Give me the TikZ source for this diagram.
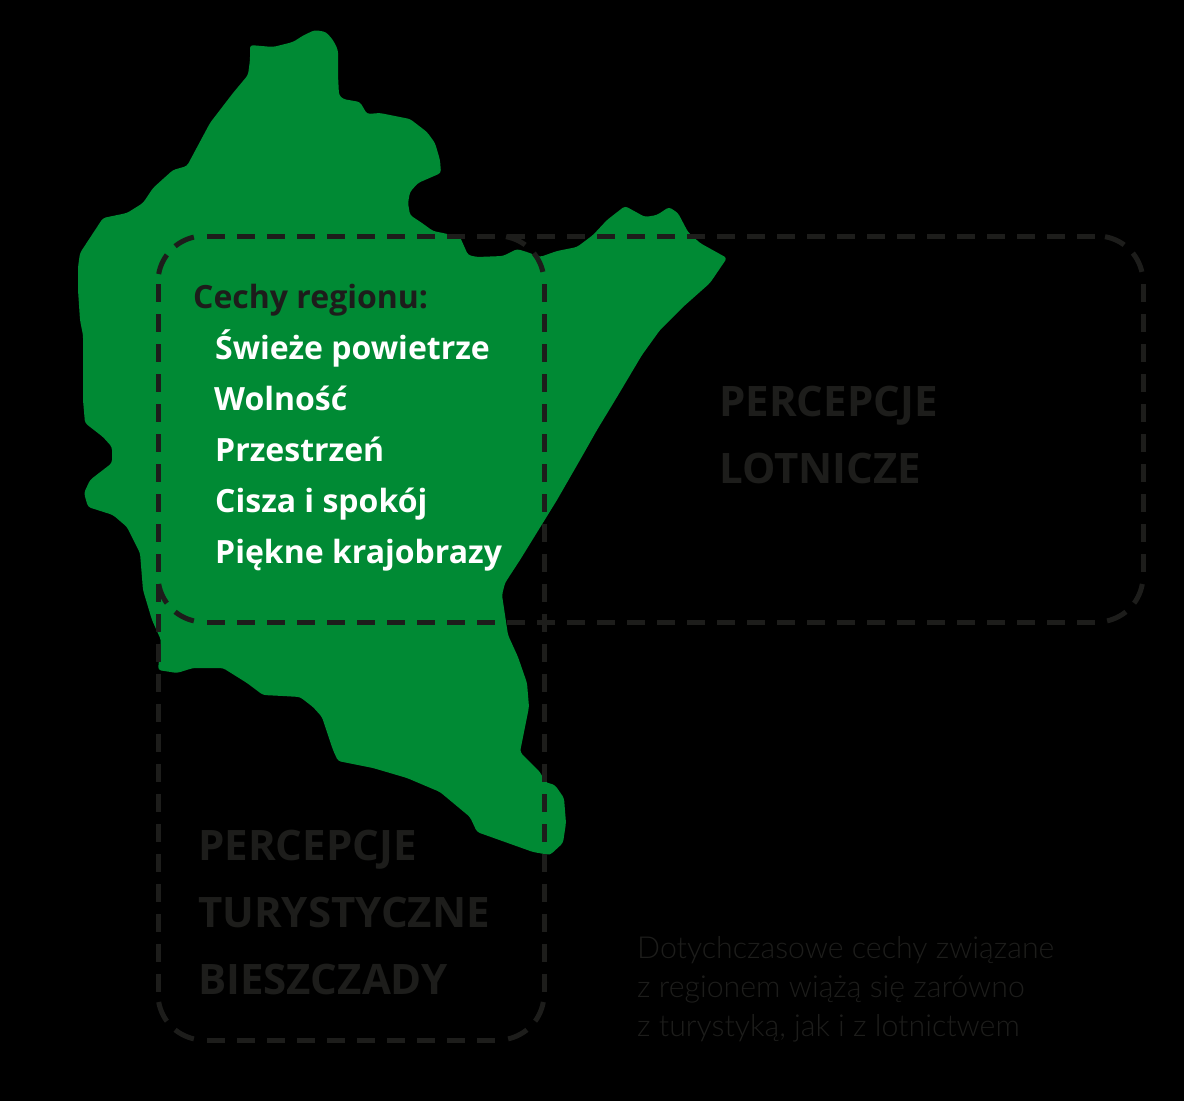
\documentclass[tikz,border=0pt]{standalone}
\usepackage{fontspec}
\setmainfont{Open Sans}
\newfontfamily\lightf{Lato Light}
\definecolor{regiongreen}{HTML}{008A34}
\definecolor{inkdark}{HTML}{1D1D1B}
\tikzset{
  region/.style={fill=regiongreen,draw=none,rounded corners=3pt},
  dashside/.style={draw=inkdark,line width=5pt,dash pattern=on 18pt off 12pt},
  dasharc/.style={draw=inkdark,line width=5pt,dash pattern=on 21pt off 12pt},
  headtext/.style={anchor=base west,inner sep=0pt,text=inkdark,font=\fontsize{32}{32}\selectfont\bfseries},
  itemtext/.style={anchor=base west,inner sep=0pt,text=white,font=\fontsize{32}{32}\selectfont\bfseries},
  bigtext/.style={anchor=base west,inner sep=0pt,text=inkdark,font=\fontsize{42}{42}\selectfont\bfseries},
  smalltext/.style={anchor=base west,inner sep=0pt,text=inkdark,font=\fontsize{30.3}{30.3}\lightf},
}
\begin{document}
\begin{tikzpicture}[x=1pt,y=-1pt]
\fill[black] (0,0) rectangle (1184,1101);
\useasboundingbox (0,0) rectangle (1184,1101);
\path[region] (250,45) -- (273,47) -- (293,42) -- (304,35) -- (315,30) -- (326,32) -- (333,40) -- (338,50) -- (338,75) -- (339,95) -- (343,99) -- (360,102) -- (367,114) -- (380,113) -- (410,119) -- (427,132) -- (435,143) -- (440,160) -- (441,173) -- (418,183) -- (410,192) -- (408,203) -- (410,215) -- (422,223) -- (433,231) -- (443,233) -- (460,237) -- (468,255) -- (477,257) -- (503,256) -- (517,249) -- (527,252) -- (540,257) -- (557,251) -- (577,247) -- (593,235) -- (607,220) -- (625,206) -- (645,217) -- (657,215) -- (669,207) -- (678,213) -- (688,232) -- (700,243) -- (727,258) -- (710,283) -- (683,307) -- (660,330) -- (642,355) -- (617,397) -- (597,430) -- (580,460) -- (557,500) -- (520,560) -- (505,583) -- (502,595) -- (508,635) -- (518,657) -- (527,683) -- (529,707) -- (520,752) -- (540,772) -- (545,782) -- (555,785) -- (564,798) -- (566,823) -- (563,843) -- (550,855) -- (533,852) -- (477,832) -- (470,817) -- (440,792) -- (407,778) -- (373,768) -- (338,761) -- (333,750) -- (322,717) -- (313,707) -- (300,697) -- (283,696) -- (263,695) -- (247,683) -- (223,668) -- (193,668) -- (177,673) -- (158,670) -- (161,640) -- (152,620) -- (143,590) -- (140,553) -- (127,527) -- (113,515) -- (88,507) -- (84,493) -- (90,480) -- (112,463) -- (112,447) -- (103,437) -- (85,423) -- (83,400) -- (83,335) -- (80,320) -- (78,290) -- (78,267) -- (80,253) -- (103,218) -- (127,213) -- (143,203) -- (153,188) -- (173,170) -- (187,166) -- (210,123) -- (233,93) -- (248,75) -- (250,60) -- cycle;
% straight sides, each with its own dash phase
\draw[dashside] (207,236) -- (1095,236);
\draw[dashside] (207,622) -- (1095,622);
\draw[dashside] (207,1040) -- (495,1040);
\draw[dashside] (158,284) -- (158,992);
\draw[dashside] (544,284) -- (544,992);
\draw[dashside] (1143,284) -- (1143,572);
% rounded corners: centre, radius 46 (the y axis points down)
\draw[dasharc] (204,282) ++(190:46) arc[start angle=190,end angle=258,radius=46];
\draw[dasharc] (498,282) ++(280:46) arc[start angle=280,end angle=348,radius=46];
\draw[dasharc] (1097,282) ++(280:46) arc[start angle=280,end angle=348,radius=46];
\draw[dasharc] (1097,576) ++(10:46) arc[start angle=10,end angle=78,radius=46];
\draw[dasharc] (204,576) ++(170:46) arc[start angle=170,end angle=102,radius=46];
\draw[dasharc] (204,994) ++(170:46) arc[start angle=170,end angle=102,radius=46];
\draw[dasharc] (498,994) ++(10:46) arc[start angle=10,end angle=78,radius=46];
\node[headtext] (head) at (193,308) {Cechy regionu:};
\node[itemtext] (i1) at (215,359) {Świeże powietrze};
\node[itemtext] (i2) at (214,410) {Wolność};
\node[itemtext] (i3) at (215,461) {Przestrzeń};
\node[itemtext] (i4) at (215,512) {Cisza i spokój};
\node[itemtext] (i5) at (215,563) {Piękne krajobrazy};
\node[bigtext] (l1) at (719,416) {PERCEPCJE};
\node[bigtext] (l2) at (719,483) {LOTNICZE};
\node[bigtext] (t1) at (198,860) {PERCEPCJE};
\node[bigtext] (t2) at (198,927) {TURYSTYCZNE};
\node[bigtext] (t3) at (198,994) {BIESZCZADY};
\node[smalltext] (s1) at (637,958) {Dotychczasowe cechy związane};
\node[smalltext] (s2) at (637,997) {z regionem wiążą się zarówno};
\node[smalltext] (s3) at (637,1036) {z turystyką, jak i z lotnictwem};
\end{tikzpicture}
\end{document}
